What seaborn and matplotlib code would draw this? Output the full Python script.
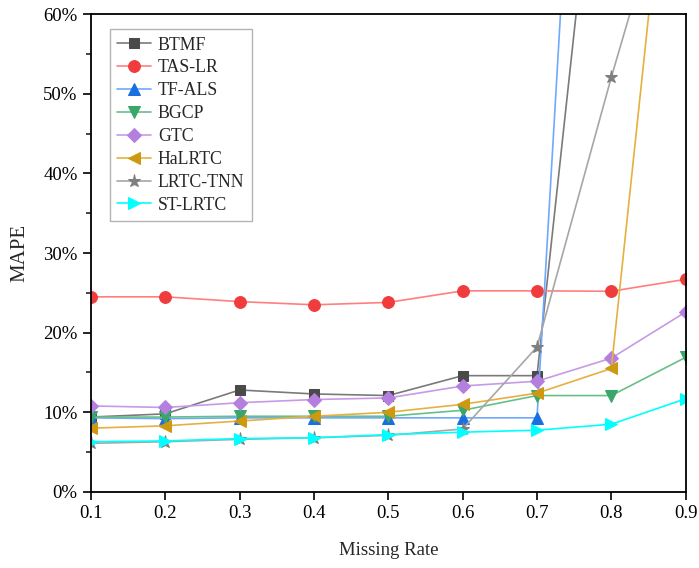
import matplotlib
matplotlib.use("Agg")
import matplotlib.pyplot as plt
from matplotlib.ticker import PercentFormatter, MultipleLocator
import seaborn as sns
import pandas as pd

# Missing rate on x, MAPE (%) on y
rates = [0.1, 0.2, 0.3, 0.4, 0.5, 0.6, 0.7, 0.8, 0.9]

btmf = [9.4, 9.8, 12.8, 12.3, 12.1, 14.6, 14.6, 101, 140]
tas_lr = [24.5, 24.5, 23.9, 23.5, 23.8, 25.25, 25.25, 25.2, 26.7]
tf_als = [9.3, 9.2, 9.3, 9.3, 9.3, 9.3, 9.3, 170, 200]
bgcp = [9.4, 9.4, 9.5, 9.5, 9.5, 10.25, 12.1, 12.1, 16.9]
gtc = [10.8, 10.6, 11.2, 11.6, 11.8, 13.3, 13.9, 16.8, 22.6]
halrtc = [8.0, 8.3, 8.9, 9.5, 10.0, 11.0, 12.4, 15.5, 104]
lrtc_tnn = [6.1, 6.3, 6.6, 6.8, 7.1, 7.9, 18.2, 52.1, 84]
st_lrtc = [6.3, 6.4, 6.7, 6.8, 7.2, 7.5, 7.75, 8.5, 11.7]

methods = ["BTMF", "TAS-LR", "TF-ALS", "BGCP", "GTC", "HaLRTC", "LRTC-TNN", "ST-LRTC"]
values = [btmf, tas_lr, tf_als, bgcp, gtc, halrtc, lrtc_tnn, st_lrtc]

line_colors = ["#7a7a7a", "#ff7f7f", "#70a8ff", "#66c08a", "#c79ae8", "#e6b040", "#a6a6a6", "#00ffff"]
marker_colors = ["#4a4a4a", "#f03c3c", "#1a6fe0", "#3aa66a", "#b57fe0", "#cc9910", "#7f7f7f", "#00ffff"]
markers = ["s", "o", "^", "v", "D", "<", "*", ">"]
marker_sizes = [7.5, 8.5, 8.5, 8.5, 7.5, 8.5, 9.5, 8.5]

df = pd.DataFrame({
    "rate": rates * len(methods),
    "mape": [v for vals in values for v in vals],
    "method": [m for m in methods for _ in rates],
})

sns.set_style("ticks")
plt.rcParams["font.family"] = ["Liberation Serif", "DejaVu Serif"]

fig = plt.figure(figsize=(6.99, 5.68), dpi=100)
ax = fig.add_axes([0.130, 0.134, 0.851, 0.841])

for i, m in enumerate(methods):
    sns.lineplot(data=df[df["method"] == m], x="rate", y="mape", ax=ax,
                 color=line_colors[i], marker=markers[i], markersize=marker_sizes[i],
                 markerfacecolor=marker_colors[i], markeredgecolor=marker_colors[i],
                 linewidth=1.2, label=m)

ax.set_xlim(0.1, 0.9)
ax.set_ylim(0, 60)
ax.xaxis.set_major_locator(MultipleLocator(0.1))
ax.yaxis.set_major_locator(MultipleLocator(10))
ax.yaxis.set_minor_locator(MultipleLocator(5))
ax.yaxis.set_major_formatter(PercentFormatter(decimals=0))
ax.tick_params(axis="both", which="major", direction="out", length=6, width=1.2, labelsize=13.5, colors="black")
ax.tick_params(axis="y", which="minor", direction="out", length=3.5, width=1.2)
for s in ax.spines.values():
    s.set_linewidth(1.3)
    s.set_color("black")
    s.set_visible(True)

ax.set_xlabel("Missing Rate", fontsize=13.5, labelpad=14)
ax.set_ylabel("MAPE", fontsize=15, labelpad=10)

leg = ax.legend(loc="upper left", bbox_to_anchor=(0.032, 0.968), borderaxespad=0,
                fontsize=12.8, frameon=True, fancybox=False, edgecolor="#a0a0a0",
                handlelength=1.9, labelspacing=0.33, borderpad=0.4, handletextpad=0.4)
leg.get_frame().set_linewidth(1.0)

fig.savefig("out.png", dpi=100)
